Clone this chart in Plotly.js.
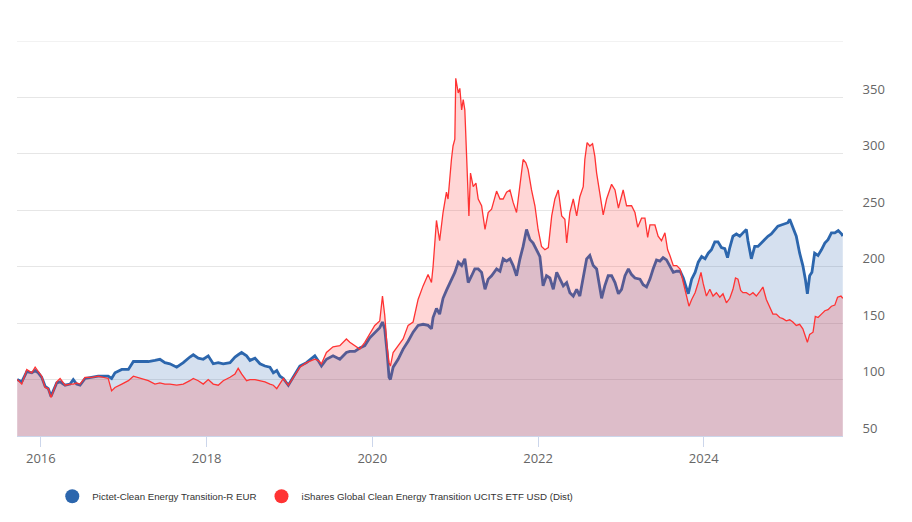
<!DOCTYPE html>
<html>
<head>
<meta charset="utf-8">
<script src="https://cdn.plot.ly/plotly-3.0.1.min.js"></script>
<style>html,body{margin:0;padding:0;background:#fff;}#chart{width:912px;height:522px;}</style>
</head>
<body>
<div id="chart"></div>
<script>
const seriesNames = ["Pictet-Clean Energy Transition-R EUR", "iShares Global Clean Energy Transition UCITS ETF USD (Dist)"];

const pictetDates = ["2015-09-19","2015-10-09","2015-10-31","2015-11-22","2015-12-07","2015-12-21","2016-01-05","2016-01-20","2016-02-03","2016-02-15","2016-02-25","2016-03-11","2016-03-26","2016-04-17","2016-05-09","2016-05-23","2016-06-07","2016-06-22","2016-07-14","2016-08-12","2016-09-10","2016-10-02","2016-10-24","2016-11-08","2016-11-23","2016-12-23","2017-01-21","2017-02-12","2017-02-27","2017-03-21","2017-04-19","2017-05-18","2017-06-09","2017-07-01","2017-07-23","2017-08-22","2017-09-20","2017-10-19","2017-11-03","2017-11-25","2017-12-17","2018-01-08","2018-01-30","2018-02-21","2018-03-15","2018-04-14","2018-05-06","2018-05-20","2018-06-04","2018-06-26","2018-07-11","2018-08-02","2018-08-24","2018-09-15","2018-10-07","2018-10-22","2018-11-06","2018-11-20","2018-12-05","2018-12-27","2019-01-18","2019-02-16","2019-03-17","2019-04-23","2019-05-07","2019-05-22","2019-06-13","2019-07-12","2019-08-11","2019-09-09","2019-09-24","2019-10-16","2019-11-07","2019-11-29","2019-12-21","2020-01-12","2020-02-03","2020-02-15","2020-02-25","2020-03-06","2020-03-15","2020-03-21","2020-04-02","2020-04-24","2020-05-16","2020-06-07","2020-06-29","2020-07-21","2020-08-12","2020-09-03","2020-09-18","2020-09-25","2020-10-10","2020-10-24","2020-11-08","2020-11-23","2020-12-08","2020-12-30","2021-01-14","2021-01-29","2021-02-12","2021-02-27","2021-03-14","2021-03-28","2021-04-12","2021-04-27","2021-05-12","2021-05-26","2021-06-10","2021-07-02","2021-07-17","2021-07-31","2021-08-15","2021-08-30","2021-09-13","2021-09-28","2021-10-13","2021-10-27","2021-11-11","2021-11-26","2021-12-10","2021-12-25","2022-01-09","2022-01-23","2022-02-07","2022-02-22","2022-03-09","2022-03-24","2022-04-07","2022-04-22","2022-05-07","2022-05-21","2022-06-05","2022-06-20","2022-07-04","2022-07-19","2022-08-03","2022-08-17","2022-09-01","2022-09-16","2022-09-30","2022-10-08","2022-10-22","2022-11-06","2022-11-21","2022-12-06","2022-12-21","2023-01-04","2023-01-19","2023-02-03","2023-02-17","2023-03-04","2023-03-26","2023-04-09","2023-04-24","2023-05-09","2023-05-23","2023-06-07","2023-06-22","2023-07-06","2023-07-21","2023-08-05","2023-08-20","2023-09-04","2023-09-19","2023-10-03","2023-10-18","2023-10-25","2023-11-09","2023-11-24","2023-12-08","2023-12-23","2024-01-07","2024-01-21","2024-02-04","2024-02-19","2024-03-04","2024-03-19","2024-04-03","2024-04-15","2024-04-25","2024-05-09","2024-05-24","2024-06-08","2024-06-22","2024-07-07","2024-07-14","2024-07-29","2024-08-13","2024-08-27","2024-09-11","2024-09-26","2024-10-10","2024-10-25","2024-11-09","2024-11-23","2024-12-08","2024-12-23","2025-01-06","2025-01-14","2025-01-28","2025-02-12","2025-02-27","2025-03-13","2025-03-24","2025-04-02","2025-04-12","2025-04-22","2025-05-04","2025-05-19","2025-06-03","2025-06-18","2025-07-02","2025-07-17","2025-08-01","2025-08-16","2025-08-31","2025-09-05"];
const pictetValues = [100,98,107,106,108,106,102,94,92,85,90,97,98,95,96,100,96,95,101,102,103,103,103,101,106,109,109,116,116,116,116,117,118,115,114,111,115,120,122,119,118,121,114,115,114,115,120,122,124,121,117,119,114,112,111,106,108,103,101,95,102,112,115,121,117,112,118,121,118,124,125,125,128,130,137,142,146,151,145,125,102,100,111,118,127,134,142,148,149,148,145,155,163,158,172,179,186,195,204,201,207,186,192,198,198,195,180,189,192,198,196,207,205,207,201,192,207,218,233,224,221,215,209,183,192,190,180,195,189,183,186,177,174,180,174,189,207,210,201,198,183,172,183,192,192,186,176,180,192,198,193,190,189,184,182,189,198,206,205,208,206,201,195,196,196,190,180,176,189,195,204,209,207,212,215,222,222,217,216,208,217,227,229,227,230,233,223,207,218,218,221,224,227,229,233,236,237,238,239,242,235,227,212,201,189,176,192,195,212,210,215,221,224,230,230,232,229,227];

const isharesDates = ["2015-09-19","2015-10-09","2015-10-31","2015-11-22","2015-12-07","2015-12-21","2016-01-05","2016-01-20","2016-02-03","2016-02-15","2016-02-25","2016-03-11","2016-03-26","2016-04-17","2016-05-09","2016-05-23","2016-06-07","2016-06-22","2016-07-14","2016-08-12","2016-09-10","2016-10-02","2016-10-24","2016-11-08","2016-11-23","2016-12-23","2017-01-21","2017-02-12","2017-02-27","2017-03-21","2017-04-19","2017-05-18","2017-06-09","2017-07-01","2017-07-23","2017-08-22","2017-09-20","2017-10-19","2017-11-03","2017-11-25","2017-12-17","2018-01-08","2018-01-30","2018-02-21","2018-03-15","2018-04-14","2018-05-06","2018-05-20","2018-06-04","2018-06-26","2018-07-11","2018-08-02","2018-08-24","2018-09-15","2018-10-07","2018-10-22","2018-11-06","2018-11-20","2018-12-05","2018-12-27","2019-01-18","2019-02-16","2019-03-17","2019-04-23","2019-05-07","2019-05-22","2019-06-13","2019-07-12","2019-08-11","2019-09-09","2019-09-24","2019-10-16","2019-11-07","2019-11-29","2019-12-21","2020-01-12","2020-02-03","2020-02-15","2020-02-25","2020-03-06","2020-03-15","2020-03-21","2020-04-02","2020-04-24","2020-05-16","2020-06-07","2020-06-29","2020-07-21","2020-08-12","2020-09-03","2020-09-18","2020-09-25","2020-10-10","2020-10-24","2020-11-08","2020-11-23","2020-11-30","2020-12-15","2020-12-22","2020-12-30","2021-01-03","2021-01-14","2021-01-21","2021-01-29","2021-02-05","2021-02-12","2021-02-20","2021-03-02","2021-03-09","2021-03-21","2021-04-02","2021-04-12","2021-04-27","2021-05-12","2021-05-26","2021-06-10","2021-07-02","2021-07-17","2021-07-31","2021-08-15","2021-08-30","2021-09-13","2021-09-28","2021-10-13","2021-10-27","2021-11-08","2021-11-18","2021-12-03","2021-12-18","2022-01-01","2022-01-16","2022-01-31","2022-02-15","2022-03-02","2022-03-16","2022-03-31","2022-04-15","2022-04-29","2022-05-07","2022-05-21","2022-06-05","2022-06-20","2022-07-04","2022-07-19","2022-07-26","2022-08-05","2022-08-17","2022-08-29","2022-09-08","2022-09-16","2022-09-30","2022-10-15","2022-10-30","2022-11-21","2022-12-06","2022-12-21","2023-01-11","2023-01-26","2023-02-17","2023-03-04","2023-03-16","2023-04-02","2023-04-17","2023-04-29","2023-05-09","2023-05-31","2023-06-14","2023-06-29","2023-07-14","2023-07-26","2023-08-05","2023-08-20","2023-09-04","2023-09-19","2023-10-03","2023-10-18","2023-10-28","2023-11-09","2023-11-24","2023-12-08","2023-12-20","2023-12-30","2024-01-13","2024-01-28","2024-02-11","2024-02-26","2024-03-12","2024-03-26","2024-04-10","2024-04-25","2024-05-09","2024-05-20","2024-05-31","2024-06-12","2024-06-22","2024-07-07","2024-07-22","2024-08-05","2024-08-20","2024-09-04","2024-09-18","2024-10-03","2024-10-18","2024-11-01","2024-11-16","2024-12-01","2024-12-15","2024-12-30","2025-01-14","2025-01-28","2025-02-12","2025-02-27","2025-03-13","2025-03-24","2025-04-02","2025-04-12","2025-04-27","2025-05-07","2025-05-19","2025-06-03","2025-06-18","2025-07-02","2025-07-17","2025-08-01","2025-08-13","2025-08-28","2025-09-05"];
const isharesValues = [100,96,109,106,111,107,103,93,92,84,90,98,101,95,96,96,97,96,102,102,103,102,101,90,93,96,99,103,102,101,99,96,97,96,96,95,96,99,101,99,96,100,96,95,99,102,105,110,105,99,100,100,99,98,96,95,92,96,101,95,102,111,115,118,117,114,124,129,130,136,133,130,127,133,140,148,152,174,157,130,115,112,124,130,136,148,151,171,183,193,186,200,241,223,248,266,260,295,307,313,367,354,358,339,348,339,298,245,283,271,274,260,254,233,248,251,267,260,260,266,268,257,248,274,295,292,286,268,254,233,218,215,217,245,260,268,245,242,221,248,260,245,262,271,295,310,307,309,298,283,266,246,260,273,268,252,268,254,254,248,235,243,243,226,237,237,227,223,230,215,210,201,201,198,186,173,165,171,177,186,195,185,174,180,174,177,173,176,168,172,180,190,189,179,177,177,175,177,174,178,182,171,165,158,158,155,154,152,153,151,148,149,145,139,133,140,142,156,155,158,161,162,165,166,173,174,172];

const yTickVals = [50,100,150,200,250,300,350,400];
const yTickText = ["50","100","150","200","250","300","350",""];

const blue = "#2c66ad";
const red = "#ff3333";

const traces = [
  {x: pictetDates, y: pictetValues, type: "scatter", mode: "lines", name: seriesNames[0],
   line: {color: blue, width: 2.8}, fill: "tozeroy", fillcolor: "rgba(44,102,173,0.2)", showlegend: false, hoverinfo: "x+y"},
  {x: isharesDates, y: isharesValues, type: "scatter", mode: "lines", name: seriesNames[1],
   line: {color: red, width: 1.3}, fill: "tozeroy", fillcolor: "rgba(255,51,51,0.2)", showlegend: false, hoverinfo: "x+y"},
  {x: [null], y: [null], type: "scatter", mode: "markers", name: seriesNames[0],
   marker: {color: blue, size: 14}, showlegend: true},
  {x: [null], y: [null], type: "scatter", mode: "markers", name: seriesNames[1],
   marker: {color: red, size: 14}, showlegend: true}
];

const layout = {
  width: 912, height: 522,
  margin: {l: 17, r: 69, t: 41, b: 85},
  paper_bgcolor: "#ffffff", plot_bgcolor: "#ffffff",
  font: {family: "Open Sans, sans-serif", color: "#666666", size: 13},
  showlegend: true,
  legend: {orientation: "h", x: 0.0427, xanchor: "left", y: -0.113, yanchor: "top",
    font: {family: "Liberation Sans, sans-serif", size: 9.7, color: "#333333"},
    itemclick: false, itemdoubleclick: false},
  xaxis: {type: "date", range: ["2015-09-18", "2025-09-06"], tick0: "2016-01-01", dtick: "M24",
    tickformat: "%Y", showgrid: false, zeroline: false, showline: true, linecolor: "#ccd6eb", linewidth: 1,
    ticks: "outside", ticklen: 10, tickcolor: "#ccd6eb", tickwidth: 1,
    tickfont: {size: 13, color: "#666666"}},
  yaxis: {side: "right", range: [50, 400], tickvals: yTickVals, ticktext: yTickText,
    showgrid: true, gridcolor: "#e6e6e6", gridwidth: 1, zeroline: false, showline: false,
    ticks: "outside", ticklen: 16, tickcolor: "rgba(0,0,0,0)", ticklabelshift: -8,
    tickfont: {size: 13, color: "#666666"}},
  shapes: [
    {type: "line", xref: "paper", yref: "y", x0: 0, x1: 1, y0: 400, y1: 400,
     line: {color: "#e6e6e6", width: 1}, layer: "below"}
  ]
};

Plotly.newPlot("chart", traces, layout, {displayModeBar: false, staticPlot: true});
</script>
</body>
</html>
